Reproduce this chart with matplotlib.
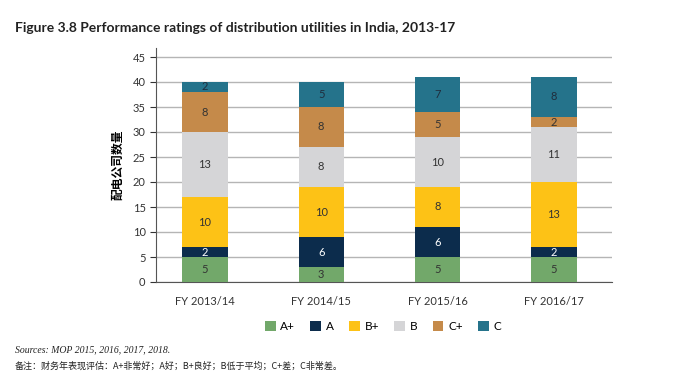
import numpy as np
import matplotlib.pyplot as plt

years = ["FY 2013/14", "FY 2014/15", "FY 2015/16", "FY 2016/17"]
ratings = ["A+", "A", "B+", "B", "C+", "C"]
a_plus = [5, 3, 5, 5]
a = [2, 6, 6, 2]
b_plus = [10, 10, 8, 13]
b = [13, 8, 10, 11]
c_plus = [8, 8, 5, 2]
c = [2, 5, 7, 8]
series = [a_plus, a, b_plus, b, c_plus, c]
colors = ["#72a86a", "#0c2c4c", "#fdc216", "#d5d5d7", "#c58a4a", "#25738b"]
text_colors = ["#333333", "white", "#333333", "#333333", "#333333", "#1f2d3d"]
yticks = list(range(0, 50, 5))

plt.rcParams['font.family'] = ['Lato', 'Noto Sans CJK SC']

fig = plt.figure(figsize=(6.93, 3.81), dpi=100)
ax = fig.add_axes([156 / 693, 1 - 282 / 381, (612 - 156) / 693, (282 - 48) / 381])

x = np.arange(len(years))
bottom = np.zeros(len(years))
for vals, col, tc, lab in zip(series, colors, text_colors, ratings):
    vals = np.array(vals)
    ax.bar(x, vals, 0.39, bottom=bottom, color=col, label=lab, zorder=3)
    for xi, v, b0 in zip(x, vals, bottom):
        ax.text(xi, b0 + v / 2, str(v), ha="center", va="center",
                fontsize=8, color=tc, zorder=4)
    bottom += vals

ax.set_xlim(-0.42, 3.5)
ax.set_ylim(0, 46.8)
ax.set_yticks(yticks)
ax.set_xticks(x)
ax.set_xticklabels(years, fontsize=8, color="#333333")
ax.tick_params(axis="y", labelsize=8, colors="#333333", length=4, direction="out")
ax.tick_params(axis="x", length=0, pad=10)
ax.yaxis.grid(True, color="#b5b5b5", linewidth=1.0, zorder=0)
for s in ["top", "right"]:
    ax.spines[s].set_visible(False)
ax.spines["left"].set_color("#555555")
ax.spines["bottom"].set_color("#555555")
ax.set_ylabel("配电公司数量", fontsize=8.5, fontweight="bold",
              family=['Noto Sans CJK SC'], labelpad=6)

ax.legend(loc="center", bbox_to_anchor=((383 - 156) / 456, -0.19), ncol=6,
          frameon=False, fontsize=8.5, handlelength=0.9, handleheight=0.9,
          columnspacing=1.3, handletextpad=0.4)

fig.text(15 / 693, 1 - 28 / 381,
         "Figure 3.8 Performance ratings of distribution utilities in India, 2013-17",
         fontsize=10, fontweight="bold", color="#222222", va="center")
fig.text(15 / 693, 1 - 350 / 381, "Sources: MOP 2015, 2016, 2017, 2018.",
         fontsize=7, style="italic", color="#222222", va="center",
         family=["Liberation Serif"])
fig.text(15 / 693, 1 - 366 / 381,
         "备注：财务年表现评估：A+非常好；A好；B+良好；B低于平均；C+差；C非常差。",
         fontsize=6.5, color="#222222", va="center",
         family=["Noto Sans CJK SC", "DejaVu Sans"])

fig.savefig("out.png", dpi=100)
